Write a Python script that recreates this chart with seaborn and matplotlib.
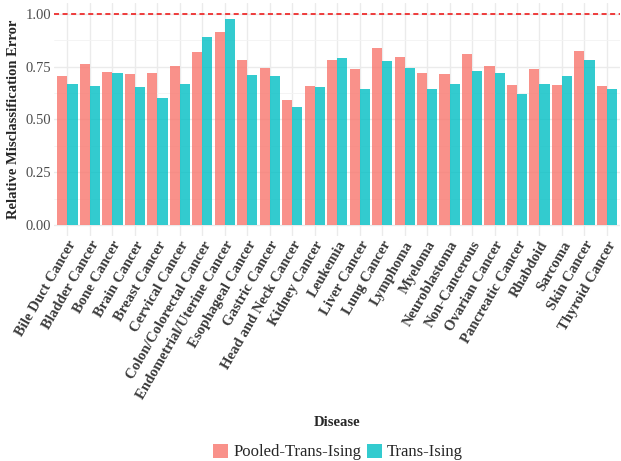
import matplotlib
matplotlib.use("Agg")
import matplotlib.pyplot as plt
from matplotlib.patches import Patch
from matplotlib.ticker import MultipleLocator
import seaborn as sns
import pandas as pd

# Data
diseases = [
    "Bile Duct Cancer", "Bladder Cancer", "Bone Cancer", "Brain Cancer",
    "Breast Cancer", "Cervical Cancer", "Colon/Colorectal Cancer",
    "Endometrial/Uterine Cancer", "Esophageal Cancer", "Gastric Cancer",
    "Head and Neck Cancer", "Kidney Cancer", "Leukemia", "Liver Cancer",
    "Lung Cancer", "Lymphoma", "Myeloma", "Neuroblastoma", "Non-Cancerous",
    "Ovarian Cancer", "Pancreatic Cancer", "Rhabdoid", "Sarcoma",
    "Skin Cancer", "Thyroid Cancer",
]
pooled = [0.706, 0.763, 0.725, 0.715, 0.720, 0.753, 0.819, 0.913, 0.781,
          0.744, 0.593, 0.659, 0.781, 0.739, 0.838, 0.796, 0.720, 0.715,
          0.810, 0.753, 0.664, 0.739, 0.664, 0.824, 0.659]
trans = [0.668, 0.659, 0.720, 0.654, 0.602, 0.668, 0.890, 0.975, 0.711,
         0.706, 0.560, 0.654, 0.791, 0.645, 0.777, 0.744, 0.645, 0.668,
         0.730, 0.720, 0.621, 0.668, 0.706, 0.781, 0.645]
methods = ["Pooled-Trans-Ising", "Trans-Ising"]
colors = ["#F8766D", "#00BFC4"]

df = pd.DataFrame({
    "Disease": diseases * 2,
    "error": pooled + trans,
    "method": [methods[0]] * len(diseases) + [methods[1]] * len(diseases),
})

sns.set_theme(style="white")
plt.rcParams["font.family"] = ["Liberation Serif", "DejaVu Serif"]

fig, ax = plt.subplots(figsize=(6.21, 4.61), dpi=100)
fig.subplots_adjust(left=54 / 621, right=0.999, top=1 - 3 / 461, bottom=1 - 236 / 461)

sns.barplot(data=df, x="Disease", y="error", hue="method", order=diseases,
            hue_order=methods, palette=colors, saturation=1, alpha=0.8,
            width=0.9, linewidth=0, ax=ax, legend=False)

ax.axhline(1.0, color="#EE3B3B", ls=(0, (2.6, 1.8)), lw=1.4, zorder=3)

ax.set_xlim(-0.6, len(diseases) - 0.4)
ax.yaxis.set_major_locator(MultipleLocator(0.25))
ax.yaxis.set_minor_locator(MultipleLocator(0.125))
ax.set_ylim(-0.05, 1.05)
ax.yaxis.set_major_formatter(matplotlib.ticker.FormatStrFormatter("%.2f"))

ax.grid(True, which="major", color="#EBEBEB", lw=1.0)
ax.grid(True, which="minor", axis="y", color="#F3F3F3", lw=0.6)
ax.set_axisbelow(True)
for s in ax.spines.values():
    s.set_visible(False)
ax.tick_params(axis="both", which="both", length=0)
ax.tick_params(axis="y", labelsize=10.5, labelcolor="#4D4D4D", pad=2)
ax.tick_params(axis="x", labelsize=10.6, labelcolor="#3A3A3A", pad=2)
plt.setp(ax.get_xticklabels(), rotation=60, ha="right", va="top",
         rotation_mode="anchor", fontweight="bold")

ax.set_xlabel("Disease", fontsize=10.5, fontweight="bold", labelpad=10)
ax.set_ylabel("Relative Misclassification Error", fontsize=10.5,
              fontweight="bold", labelpad=4)

handles = [Patch(facecolor=c, alpha=0.8, edgecolor="none") for c in colors]
fig.legend(handles, methods, loc="center", bbox_to_anchor=(338 / 621, 1 - 452 / 461),
           ncol=2, frameon=False, fontsize=12, handlelength=0.9,
           handleheight=0.9, handletextpad=0.3, columnspacing=0.35)

fig.savefig("out.png", dpi=100)
